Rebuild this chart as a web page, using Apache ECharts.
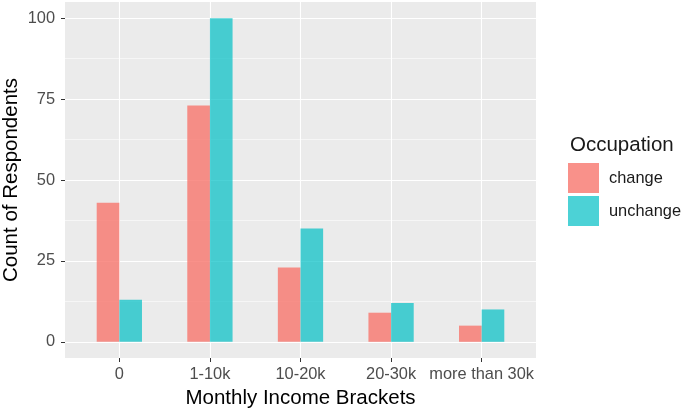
<!DOCTYPE html>
<html>
<head>
<meta charset="utf-8">
<script src="https://cdn.jsdelivr.net/npm/echarts@6/dist/echarts.min.js"></script>
<style>
  html, body { margin: 0; padding: 0; background: #fff; }
  #main { width: 685px; height: 411px; }
</style>
</head>
<body>
<div id="main"></div>
<script>
var categories = ['0', '1-10k', '10-20k', '20-30k', 'more than 30k'];
var changeValues = [43, 73, 23, 9, 5];
var unchangeValues = [13, 100, 35, 12, 10];
var yTicks = [0, 25, 50, 75, 100];
var yMinor = [12.5, 37.5, 62.5, 87.5];
var catIndex = [0, 1, 2, 3, 4];

var chart = echarts.init(document.getElementById('main'), null, { renderer: 'canvas' });

// panel is 65..536 px wide, discrete scale expands 0.6 unit each side
var panelLeft = 65, panelRight = 536;
var unit = (panelRight - panelLeft) / (categories.length - 1 + 1.2);
var barLeft = panelLeft + 0.6 * unit - unit / 2;
var barRight = 685 - (barLeft + unit * categories.length);

var gridLines = [];
yTicks.forEach(function (v) {
  gridLines.push({ yAxis: v, lineStyle: { color: '#fff', width: 1.1, type: 'solid' } });
});
yMinor.forEach(function (v) {
  gridLines.push({ yAxis: v, lineStyle: { color: '#fff', width: 0.55, type: 'solid' } });
});
catIndex.forEach(function (v) {
  gridLines.push({ xAxis: v, lineStyle: { color: '#fff', width: 1.1, type: 'solid' } });
});

var option = {
  animation: false,
  textStyle: { fontFamily: 'Liberation Sans' },
  title: {
    text: 'Occupation',
    left: 565,
    top: 130,
    textStyle: { fontSize: 20.5, fontWeight: 'normal', color: '#1a1a1a', fontFamily: 'Liberation Sans' }
  },
  legend: {
    data: ['change', 'unchange'],
    orient: 'vertical',
    left: 568,
    top: 163,
    padding: 0,
    icon: 'rect',
    itemWidth: 31,
    itemHeight: 30,
    itemGap: 3,
    textStyle: { fontSize: 16.4, color: '#1a1a1a', padding: [0, 0, 0, 5] }
  },
  grid: [
    {
      left: panelLeft,
      right: 685 - panelRight,
      top: 2,
      bottom: 53,
      outerBoundsMode: 'none',
      containLabel: false,
      show: true,
      backgroundColor: '#EBEBEB',
      borderWidth: 0
    },
    {
      left: barLeft,
      right: barRight,
      top: 2,
      bottom: 53,
      outerBoundsMode: 'none',
      containLabel: false
    }
  ],
  xAxis: [
    {
      type: 'value',
      gridIndex: 0,
      min: -0.6,
      max: 4.6,
      name: 'Monthly Income Brackets',
      nameLocation: 'middle',
      nameGap: 30,
      nameMoveOverlap: false,
      nameTextStyle: { fontSize: 20.5, color: '#000' },
      axisLine: { show: false, onZero: false },
      splitLine: { show: false },
      axisTick: {
        show: true,
        length: 4,
        customValues: catIndex,
        lineStyle: { color: '#333', width: 1 }
      },
      axisLabel: {
        customValues: catIndex,
        margin: 8,
        fontSize: 16.4,
        color: '#4D4D4D',
        formatter: function (v) { return categories[Math.round(v)]; }
      }
    },
    {
      type: 'category',
      gridIndex: 1,
      data: categories,
      show: false
    }
  ],
  yAxis: [
    {
      type: 'value',
      gridIndex: 0,
      min: -5,
      max: 105,
      name: 'Count of Respondents',
      nameLocation: 'middle',
      nameGap: 43,
      nameMoveOverlap: false,
      nameTextStyle: { fontSize: 20.5, color: '#000' },
      axisLine: { show: false, onZero: false },
      splitLine: { show: false },
      axisTick: {
        show: true,
        length: 4,
        customValues: yTicks,
        lineStyle: { color: '#333', width: 1 }
      },
      axisLabel: {
        customValues: yTicks,
        margin: 10,
        fontSize: 16.4,
        color: '#4D4D4D'
      }
    },
    {
      type: 'value',
      gridIndex: 1,
      min: -5,
      max: 105,
      show: false,
      splitLine: { show: false }
    }
  ],
  series: [
    {
      name: 'grid',
      type: 'line',
      xAxisIndex: 0,
      yAxisIndex: 0,
      data: [],
      z: 1,
      silent: true,
      markLine: {
        z: 1,
        silent: true,
        symbol: 'none',
        label: { show: false },
        emphasis: { disabled: true },
        data: gridLines
      }
    },
    {
      name: 'change',
      type: 'bar',
      xAxisIndex: 1,
      yAxisIndex: 1,
      z: 3,
      barWidth: unit / 4,
      barGap: '0%',
      itemStyle: { color: 'rgba(248,118,109,0.8)' },
      data: changeValues
    },
    {
      name: 'unchange',
      type: 'bar',
      xAxisIndex: 1,
      yAxisIndex: 1,
      z: 3,
      barWidth: unit / 4,
      barGap: '0%',
      itemStyle: { color: 'rgba(0,191,196,0.7)' },
      data: unchangeValues
    }
  ]
};

chart.setOption(option);
</script>
</body>
</html>
